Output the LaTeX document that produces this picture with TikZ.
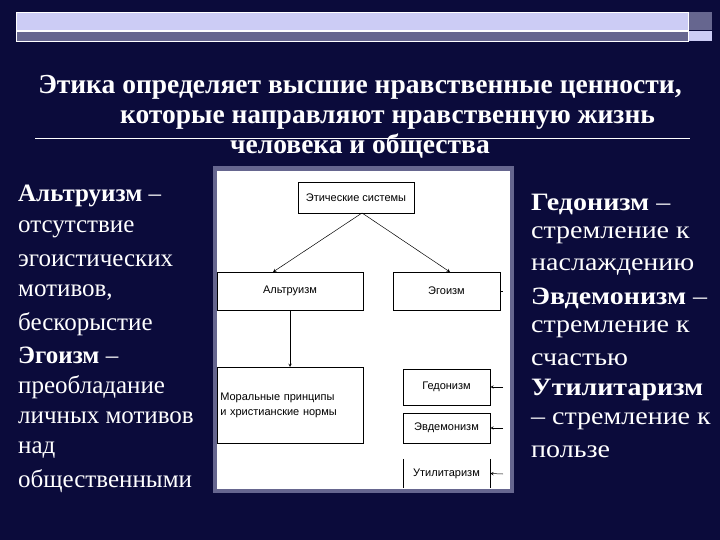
\documentclass[tikz,border=0pt]{standalone}
\usepackage{fontspec}
\setmainfont{Liberation Serif}
\newfontfamily\diag{Liberation Sans}
\newfontfamily\wide[FakeStretch=1.12]{Liberation Serif}
\definecolor{bg}{HTML}{0B0B3B}
\definecolor{lbar}{HTML}{CCCCF5}
\definecolor{dbar}{HTML}{66668F}
\begin{document}
\begin{tikzpicture}[x=1pt,y=-1pt,
  bx/.style={draw=black,line width=0.6pt,fill=white,inner sep=0,font=\diag\fontsize{11}{13}\selectfont,align=left},
  ar/.style={-stealth,line width=0.5pt},
  wt/.style={text=white,anchor=west,inner sep=0,font=\fontsize{25}{27}\selectfont},
  wr/.style={text=white,anchor=west,inner sep=0,font=\wide\fontsize{25}{27}\selectfont}]
\fill[bg] (0,0) rectangle (720,540);
\useasboundingbox (0,0) rectangle (720,540);
\fill[lbar,draw=white,line width=0.5pt] (16,12) rectangle (688,30);
\fill[dbar,draw=white,line width=0.5pt] (16,31) rectangle (688,41);
\fill[dbar] (689,12) rectangle (712,30);
\fill[lbar] (689,31) rectangle (712,41);
\node[text=white,font=\bfseries\fontsize{27.5}{30}\selectfont,align=center] (title) at (360,117)
 {Этика определяет высшие нравственные ценности,\\
 \quad\quad которые направляют нравственную жизнь\\ человека и общества};
\draw[white,line width=0.6pt] (35,138) -- (690,138);
% panel
\fill[dbar] (213,166) rectangle (514,493);
\fill[white] (217,171) rectangle (510,489);
\node[bx,minimum width=116pt,minimum height=31pt,align=center] (es) at (356,197.5) {Этические системы};
\node[bx,minimum width=146pt,minimum height=38pt,align=center] (al) at (290,291) {Альтруизм};
\node[bx,minimum width=107pt,minimum height=38pt,align=center] (eg) at (446.5,291) {Эгоизм};
\node[bx,minimum width=146pt,minimum height=76pt,anchor=north west,text width=140pt,inner sep=3pt] (mo) at (217,367) {\vspace{2pt}Моральные принципы\\ и христианские нормы};
\node[bx,minimum width=87pt,minimum height=36pt,align=center] (ge) at (446.5,387) {Гедонизм};
\node[bx,minimum width=87pt,minimum height=30pt,align=center] (ev) at (446.5,428) {Эвдемонизм};
\node[inner sep=0,minimum width=87pt,minimum height=29pt,font=\diag\fontsize{11}{13}\selectfont] (ut) at (446.5,473.5) {Утилитаризм};
\draw[line width=0.6pt] (ut.north west) -- (ut.south west) (ut.north east) -- (ut.south east);
\coordinate (top) at (362,213);
\draw[ar] (top) -- (273,272);
\draw[ar] (top) -- (450,272);
\draw[ar] (al.south) ++(0,0) coordinate (a1) -- (a1 |- mo.north);
\draw[line width=0.5pt] (eg.east) -- ++(3,0);
\coordinate (g1) at (503,387);\coordinate (e1) at (503,428);\coordinate (u1) at (503,474);
\draw[ar] (g1) -- (ge.east);
\draw[ar] (e1) -- (ev.east);
\draw[ar] (u1) -- (ut.east);
% left text
\node[wt] (l1) at (18,196) {\textbf{Альтруизм} –};
\node[wt] (l2) at (18,229) {отсутствие};
\node[wt] (l3) at (18,261) {эгоистических};
\node[wt] (l4) at (18,293) {мотивов,};
\node[wt] (l5) at (18,324) {бескорыстие};
\node[wt] (l6) at (18,355) {\textbf{Эгоизм} –};
\node[wt] (l7) at (18,387) {преобладание};
\node[wt] (l8) at (18,418) {личных мотивов};
\node[wt] (l9) at (18,450) {над};
\node[wt] (l10) at (18,481) {общественными};
% right text
\node[wr] (r1) at (531,204) {\textbf{Гедонизм} –};
\node[wr] (r2) at (531,235) {стремление к};
\node[wr] (r3) at (531,267) {наслаждению};
\node[wr] (r4) at (531,298) {\textbf{Эвдемонизм} –};
\node[wr] (r5) at (531,329) {стремление к};
\node[wr] (r6) at (531,360) {счастью};
\node[wr] (r7) at (531,390) {\textbf{Утилитаризм}};
\node[wr] (r8) at (531,421) {– стремление к};
\node[wr] (r9) at (531,452) {пользе};
\end{tikzpicture}
\end{document}
